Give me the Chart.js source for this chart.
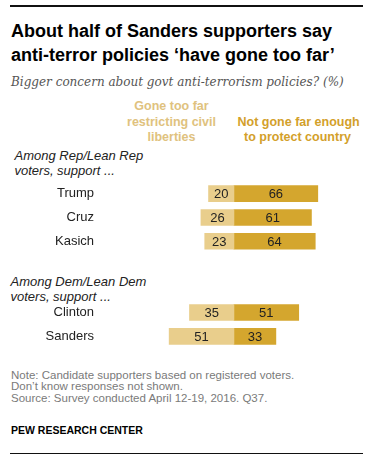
<!DOCTYPE html>
<html lang="en">
<head>
    <meta charset="UTF-8">
    <title>Sanders supporters and anti-terror policies</title>
    <script src="https://cdn.jsdelivr.net/npm/chart.js"></script>
    <style>
        body { margin: 0; background: #fff; }
        #page { position: relative; width: 365px; height: 460px; overflow: hidden; font-family: 'Liberation Sans', Arial, sans-serif; }
        .txt { position: absolute; white-space: nowrap; }
        .rule { position: absolute; left: 10px; width: 353px; height: 1.5px; background: #111; }
        #title { left: 11px; top: 19px; font-size: 18px; font-weight: bold; line-height: 24px; color: #000; }
        #subtitle { left: 11px; top: 75px; font-family: 'DejaVu Serif', Georgia, serif; font-style: italic; font-size: 12px; line-height: 14px; color: #555; }
        .legend { font-size: 12.5px; font-weight: bold; line-height: 15.5px; text-align: center; }
        #legLeft { left: 111.5px; width: 120px; top: 99px; color: #E0C27E; }
        #legRight { left: 237.5px; width: 120px; top: 114.5px; color: #D3A02A; }
        .group { font-size: 13px; font-style: italic; line-height: 15px; color: #222; }
        #notes { left: 11px; top: 370px; font-size: 11.5px; line-height: 11.3px; color: #7a7a7a; }
        #pew { left: 11px; top: 424px; font-size: 10.5px; font-weight: bold; color: #000; line-height: 12px; }
        canvas { position: absolute; left: 0; top: 170px; }
    </style>
</head>
<body>
<div id="page">
    <div class="rule" style="top:5px"></div>
    <div class="txt" id="title">About half of Sanders supporters say<br>anti-terror policies ‘have gone too far’</div>
    <div class="txt" id="subtitle">Bigger concern about govt anti-terrorism policies? (%)</div>
    <div class="txt legend" id="legLeft">Gone too far<br>restricting civil<br>liberties</div>
    <div class="txt legend" id="legRight">Not gone far enough<br>to protect country</div>
    <div class="txt group" style="left:14.5px; top:147.5px">Among Rep/Lean Rep<br>voters, support ...</div>
    <div class="txt group" style="left:10.5px; top:274px">Among Dem/Lean Dem<br>voters, support ...</div>
    <canvas id="barChart" width="365" height="190"></canvas>
    <div class="txt" id="notes">Note: Candidate supporters based on registered voters.<br>Don’t know responses not shown.<br>Source: Survey conducted April 12-19, 2016. Q37.</div>
    <div class="txt" id="pew">PEW RESEARCH CENTER</div>
    <div class="rule" style="top:452.5px"></div>
</div>
<script>
    // rows, with two empty rows as the gap between the party groups
    const candidates = ['Trump', 'Cruz', 'Kasich', '', '', 'Clinton', 'Sanders'];
    const goneTooFar = [20, 26, 23, null, null, 35, 51];
    const notFarEnough = [66, 61, 64, null, null, 51, 33];

    const lightGold = '#E9CE8C';
    const darkGold = '#D4A62E';
    const fontFamily = "'Liberation Sans', Arial, sans-serif";

    // write the numbers inside each segment
    const valueLabels = {
        id: 'valueLabels',
        afterDatasetsDraw(chart) {
            const ctx = chart.ctx;
            ctx.save();
            ctx.font = '13px ' + fontFamily;
            ctx.fillStyle = '#222';
            ctx.textAlign = 'center';
            ctx.textBaseline = 'middle';
            chart.data.datasets.forEach((ds, i) => {
                chart.getDatasetMeta(i).data.forEach((bar, j) => {
                    const v = ds.data[j];
                    if (v == null) return;
                    ctx.fillText(Math.abs(v), (bar.x + bar.base) / 2, bar.y + 1);
                });
            });
            ctx.restore();
        }
    };

    new Chart(document.getElementById('barChart'), {
        type: 'bar',
        data: {
            labels: candidates,
            datasets: [
                {
                    label: 'Gone too far restricting civil liberties',
                    data: goneTooFar.map(v => v == null ? null : -v),
                    backgroundColor: lightGold,
                    borderWidth: 0,
                    barThickness: 16
                },
                {
                    label: 'Not gone far enough to protect country',
                    data: notFarEnough,
                    backgroundColor: darkGold,
                    borderWidth: 0,
                    barThickness: 16
                }
            ]
        },
        options: {
            indexAxis: 'y',
            responsive: false,
            animation: false,
            layout: { padding: { top: 6.4, bottom: 6.85, left: 0, right: 4 } },
            plugins: {
                legend: { display: false },
                tooltip: { enabled: false }
            },
            scales: {
                x: {
                    stacked: true,
                    display: false,
                    min: -107,
                    max: 100
                },
                y: {
                    stacked: true,
                    grid: { display: false, drawTicks: false },
                    border: { display: false },
                    ticks: {
                        padding: 4,
                        color: '#222',
                        font: { family: fontFamily, size: 13 }
                    },
                    afterFit(scale) { scale.width = 98; }
                }
            }
        },
        plugins: [valueLabels]
    });
</script>
</body>
</html>
